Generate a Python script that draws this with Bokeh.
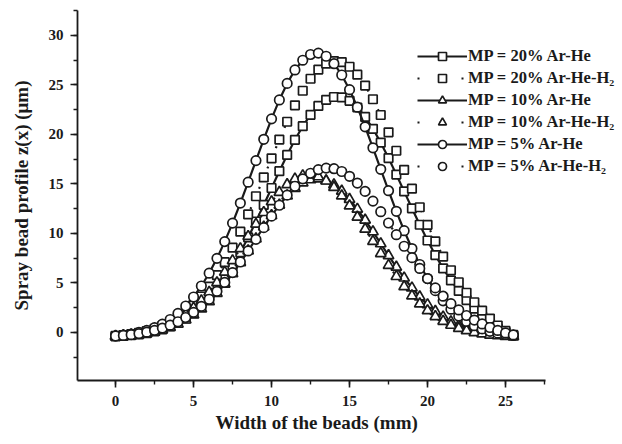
from bokeh.plotting import figure
from bokeh.models import Legend, LegendItem, SingleIntervalTicker, Range1d, ColumnDataSource, Title
from bokeh.embed import file_html
from bokeh.resources import INLINE

width_mm = [0.0, 0.5, 1.0, 1.5, 2.0, 2.5, 3.0, 3.5, 4.0, 4.5, 5.0, 5.5, 6.0, 6.5, 7.0, 7.5,
            8.0, 8.5, 9.0, 9.5, 10.0, 10.5, 11.0, 11.5, 12.0, 12.5, 13.0, 13.5, 14.0, 14.5,
            15.0, 15.5, 16.0, 16.5, 17.0, 17.5, 18.0, 18.5, 19.0, 19.5, 20.0, 20.5, 21.0,
            21.5, 22.0, 22.5, 23.0, 23.5, 24.0, 24.5, 25.0, 25.5]

mp20_arhe = [-0.40, -0.35, -0.28, -0.19, -0.07, 0.10, 0.32, 0.60, 0.96, 1.41, 1.96, 2.64,
             3.44, 4.39, 5.48, 6.72, 8.09, 9.59, 11.20, 12.87, 14.58, 16.28, 17.92, 19.45,
             20.82, 21.97, 22.87, 23.48, 23.77, 23.74, 23.38, 22.71, 21.76, 20.56, 19.16,
             17.60, 15.94, 14.24, 12.53, 10.87, 9.28, 7.81, 6.46, 5.25, 4.19, 3.27, 2.40,
             1.60, 0.95, 0.40, 0.00, -0.30]

mp20_arheh2 = [-0.34, -0.27, -0.17, -0.04, 0.14, 0.36, 0.66, 1.03, 1.50, 2.08, 2.79, 3.63,
               4.63, 5.78, 7.09, 8.56, 10.17, 11.91, 13.75, 15.65, 17.58, 19.47, 21.27, 22.93,
               24.40, 25.61, 26.54, 27.14, 27.39, 27.29, 26.82, 26.02, 24.92, 23.54, 21.95,
               20.20, 18.34, 16.42, 14.51, 12.64, 10.86, 9.19, 7.66, 6.28, 5.07, 4.01, 3.05,
               2.20, 1.40, 0.70, 0.15, -0.25]

mp10_arhe = [-0.41, -0.37, -0.31, -0.22, -0.11, 0.04, 0.25, 0.51, 0.85, 1.26, 1.78, 2.39,
             3.11, 3.95, 4.89, 5.93, 7.06, 8.24, 9.45, 10.65, 11.80, 12.86, 13.79, 14.55,
             15.10, 15.42, 15.50, 15.32, 14.91, 14.27, 13.44, 12.45, 11.35, 10.17, 8.96,
             7.76, 6.60, 5.50, 4.50, 3.60, 2.81, 2.13, 1.56, 1.09, 0.70, 0.40, 0.16, -0.02,
             -0.16, -0.26, -0.34, -0.39]

mp10_arheh2 = [-0.37, -0.30, -0.22, -0.10, 0.06, 0.27, 0.54, 0.88, 1.31, 1.83, 2.46, 3.20,
               4.06, 5.03, 6.09, 7.25, 8.46, 9.70, 10.93, 12.11, 13.20, 14.15, 14.93, 15.49,
               15.82, 15.90, 15.72, 15.29, 14.64, 13.79, 12.78, 11.65, 10.44, 9.20, 7.97,
               6.77, 5.65, 4.63, 3.70, 2.89, 2.20, 1.61, 1.13, 0.73, 0.42, 0.18, -0.01,
               -0.15, -0.26, -0.33, -0.39, -0.42]

mp5_arhe = [-0.34, -0.27, -0.16, 0.00, 0.20, 0.48, 0.84, 1.31, 1.92, 2.67, 3.58, 4.69,
            5.98, 7.48, 9.17, 11.04, 13.06, 15.17, 17.35, 19.50, 21.56, 23.47, 25.14, 26.50,
            27.48, 28.06, 28.20, 27.88, 27.13, 25.99, 24.51, 22.74, 20.76, 18.64, 16.47,
            14.31, 12.23, 10.27, 8.47, 6.86, 5.44, 4.22, 3.19, 2.35, 1.66, 1.11, 0.68, 0.36,
            0.11, -0.07, -0.20, -0.30]

mp5_arheh2 = [-0.36, -0.30, -0.22, -0.11, 0.03, 0.21, 0.44, 0.73, 1.08, 1.51, 2.03, 2.64,
              3.35, 4.15, 5.05, 6.04, 7.11, 8.23, 9.40, 10.58, 11.74, 12.84, 13.86, 14.76,
              15.51, 16.07, 16.44, 16.59, 16.53, 16.25, 15.76, 15.08, 14.24, 13.26, 12.19,
              11.05, 9.87, 8.70, 7.55, 6.46, 5.44, 4.50, 3.66, 2.91, 2.27, 1.71, 1.25, 0.86,
              0.50, 0.20, -0.05, -0.25]

labels = ["MP = 20% Ar-He", "MP = 20% Ar-He-H\u2082", "MP = 10% Ar-He",
          "MP = 10% Ar-He-H\u2082", "MP = 5% Ar-He", "MP = 5% Ar-He-H\u2082"]
series = [mp20_arhe, mp20_arheh2, mp10_arhe, mp10_arheh2, mp5_arhe, mp5_arheh2]
markers = ["square", "square", "triangle", "triangle", "circle", "circle"]
marker_sizes = [8.5, 8.5, 10.5, 10.5, 9.5, 9.5]
solid = [True, False, True, False, True, False]

FONT = "Liberation Serif"
INK = "#1a1a1a"

p = figure(width=622, height=444, output_backend="svg", toolbar_location=None,
           x_range=Range1d(-2.44, 32.37), y_range=Range1d(-4.85, 32.5),
           min_border_left=77, min_border_right=2, min_border_top=10, min_border_bottom=64)
p.outline_line_color = None
p.xgrid.grid_line_color = None
p.ygrid.grid_line_color = None
p.background_fill_color = "white"
p.border_fill_color = "white"

items = []
for ys, lab, mk, ms, so in zip(series, labels, markers, marker_sizes, solid):
    src = ColumnDataSource(dict(x=width_mm, y=ys))
    if so:
        ln = p.line("x", "y", source=src, line_color=INK, line_width=2.2)
    else:
        ln = p.line("x", "y", source=src, line_color=INK, line_width=2.2, line_dash="2 20")
    sc = p.scatter("x", "y", source=src, marker=mk, size=ms, line_color=INK,
                   fill_color="white", line_width=1.7)
    items.append(LegendItem(label=lab, renderers=[ln, sc]))

legend = Legend(items=items, location=(340, 204))
legend.label_text_font = FONT
legend.label_text_font_style = "bold"
legend.label_text_font_size = "16.5px"
legend.label_text_color = INK
legend.glyph_width = 50
legend.glyph_height = 20
legend.label_height = 20
legend.label_standoff = 1
legend.spacing = 2
legend.padding = 0
legend.margin = 0
legend.border_line_color = None
legend.background_fill_alpha = 0
p.add_layout(legend)

for ax in (p.xaxis[0], p.yaxis[0]):
    ax.ticker = SingleIntervalTicker(interval=5, num_minor_ticks=2)
    ax.axis_line_width = 1.8
    ax.axis_line_color = INK
    ax.major_tick_line_color = INK
    ax.minor_tick_line_color = INK
    ax.major_tick_line_width = 1.6
    ax.minor_tick_line_width = 1.4
    ax.major_tick_out = 7
    ax.major_tick_in = 0
    ax.minor_tick_out = 4
    ax.minor_tick_in = 0
    ax.major_label_text_font = FONT
    ax.major_label_text_font_style = "bold"
    ax.major_label_text_font_size = "15px"
    ax.major_label_text_color = INK
    ax.axis_label_text_font = FONT
    ax.axis_label_text_font_style = "bold"
    ax.axis_label_text_font_size = "19px"
    ax.axis_label_text_color = INK

p.xaxis.bounds = (-2.44, 27.56)
p.yaxis.axis_label = "Spray bead profile z(x) (\u03bcm)"
p.xaxis.major_label_standoff = 8
p.yaxis.major_label_standoff = 7
p.yaxis.axis_label_standoff = 14

xtitle = Title(text="Width of the beads (mm)", align="left", offset=138,
               text_font=FONT, text_font_style="bold", text_font_size="19px",
               text_color=INK, standoff=2)
p.add_layout(xtitle, "below")

open("out.html", "w").write(file_html(p, INLINE))
